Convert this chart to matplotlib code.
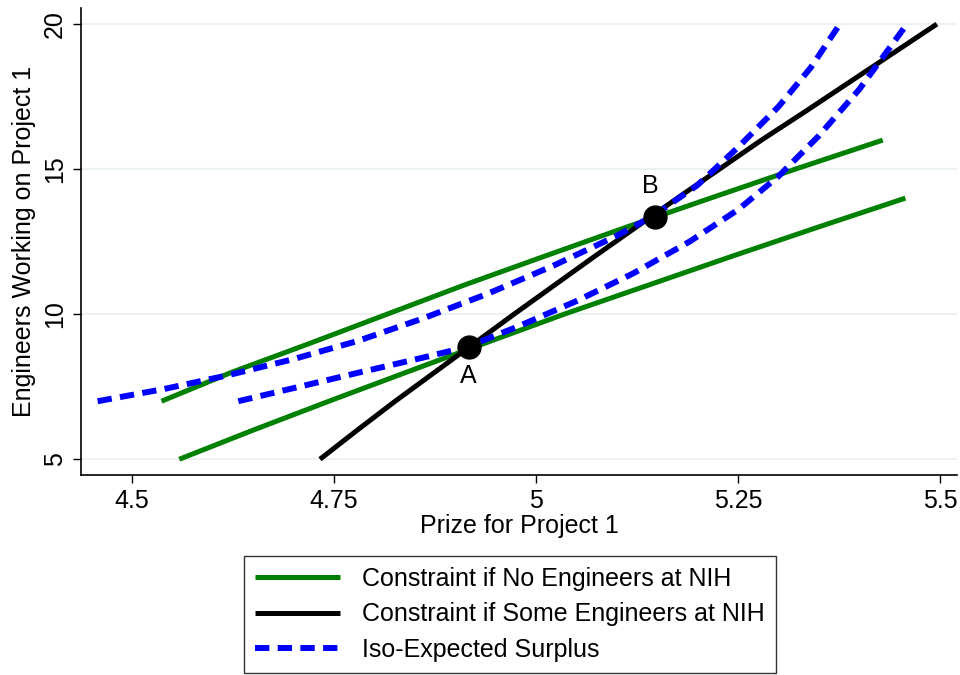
import numpy as np
import matplotlib
matplotlib.use("Agg")
import matplotlib.pyplot as plt

plt.rcParams['font.family'] = ['Liberation Sans', 'DejaVu Sans']

# constraint if no engineers at NIH (two lines)
green_hi_x = [4.537, 4.624, 4.721, 4.816, 4.911, 5.011, 5.112, 5.216, 5.321, 5.429]
green_hi_y = [7, 8, 9, 10, 11, 12, 13, 14, 15, 16]
green_lo_x = [4.559, 4.650, 4.744, 4.840, 4.937, 5.035, 5.139, 5.243, 5.349, 5.457]
green_lo_y = [5, 6, 7, 8, 9, 10, 11, 12, 13, 14]

# constraint if some engineers at NIH
black_x = [4.733, 4.779, 4.826, 4.875, 4.924, 4.973, 5.023, 5.073, 5.124,
           5.175, 5.227, 5.279, 5.334, 5.388, 5.442, 5.496]
black_y = list(range(5, 21))

# iso-expected surplus curves
iso_hi_x = [4.458, 4.540, 4.620, 4.700, 4.780, 4.860, 4.940, 5.020, 5.100,
            5.147, 5.200, 5.250, 5.300, 5.340, 5.376]
iso_hi_y = [7.00, 7.42, 7.90, 8.45, 9.08, 9.85, 10.70, 11.65, 12.70,
            13.42, 14.45, 15.75, 17.15, 18.50, 20.00]
iso_lo_x = [4.632, 4.700, 4.780, 4.860, 4.916, 4.980, 5.050, 5.120, 5.190,
            5.250, 5.300, 5.350, 5.400, 5.459]
iso_lo_y = [7.00, 7.45, 7.98, 8.50, 8.88, 9.60, 10.45, 11.40, 12.50,
            13.60, 14.75, 16.15, 17.75, 20.00]

pts_x = [4.917, 5.147]
pts_y = [8.86, 13.36]
pts_lab = ["A", "B"]

green = "#008000"
blue = "#0000ff"
fs = 18

fig = plt.figure(figsize=(9.6, 6.75), dpi=100)
ax = fig.add_axes([0.084, 0.296, 0.913, 0.692])

for yv in [5, 10, 15, 20]:
    ax.axhline(yv, color="#eaf2f3", lw=1.5, zorder=0)

l1, = ax.plot(green_hi_x, green_hi_y, color=green, lw=3.6, solid_capstyle="butt",
              label="Constraint if No Engineers at NIH")
ax.plot(green_lo_x, green_lo_y, color=green, lw=3.6, solid_capstyle="butt")
l2, = ax.plot(black_x, black_y, color="black", lw=3.6, solid_capstyle="butt",
              label="Constraint if Some Engineers at NIH")
l3, = ax.plot(iso_hi_x, iso_hi_y, color=blue, lw=4.3, ls=(0, (2.4, 1.4)),
              dash_capstyle="butt", label="Iso-Expected Surplus")
ax.plot(iso_lo_x, iso_lo_y, color=blue, lw=4.3, ls=(0, (2.4, 1.4)), dash_capstyle="butt")

ax.plot(pts_x, pts_y, "o", color="black", ms=16.5, zorder=5)
ax.text(pts_x[0], pts_y[0] - 1.0, pts_lab[0], fontsize=fs, ha="center", va="center")
ax.text(pts_x[1] - 0.006, pts_y[1] + 1.05, pts_lab[1], fontsize=fs, ha="center", va="center")

ax.set_xlim(4.437, 5.521)
ax.set_ylim(4.45, 20.55)
ax.set_xticks([4.5, 4.75, 5, 5.25, 5.5])
ax.set_xticklabels(["4.5", "4.75", "5", "5.25", "5.5"])
ax.set_yticks([5, 10, 15, 20])
ax.set_yticklabels(["5", "10", "15", "20"], rotation=90, va="center")
ax.tick_params(direction="out", length=6, width=1, labelsize=fs, pad=4)

for s in ["top", "right"]:
    ax.spines[s].set_visible(False)
for s in ["left", "bottom"]:
    ax.spines[s].set_linewidth(1.2)

ax.set_xlabel("Prize for Project 1", fontsize=fs, labelpad=1)
ax.set_ylabel("Engineers Working on Project 1", fontsize=fs, labelpad=5)

leg = fig.legend(handles=[l1, l2, l3], loc="lower center", bbox_to_anchor=(0.531, 0.003),
                 fontsize=fs, frameon=True, fancybox=False, edgecolor="black",
                 handlelength=3.4, handletextpad=0.85, labelspacing=0.45,
                 borderpad=0.45, borderaxespad=0)
leg.get_frame().set_linewidth(1.0)

fig.savefig("out.png", dpi=100)
